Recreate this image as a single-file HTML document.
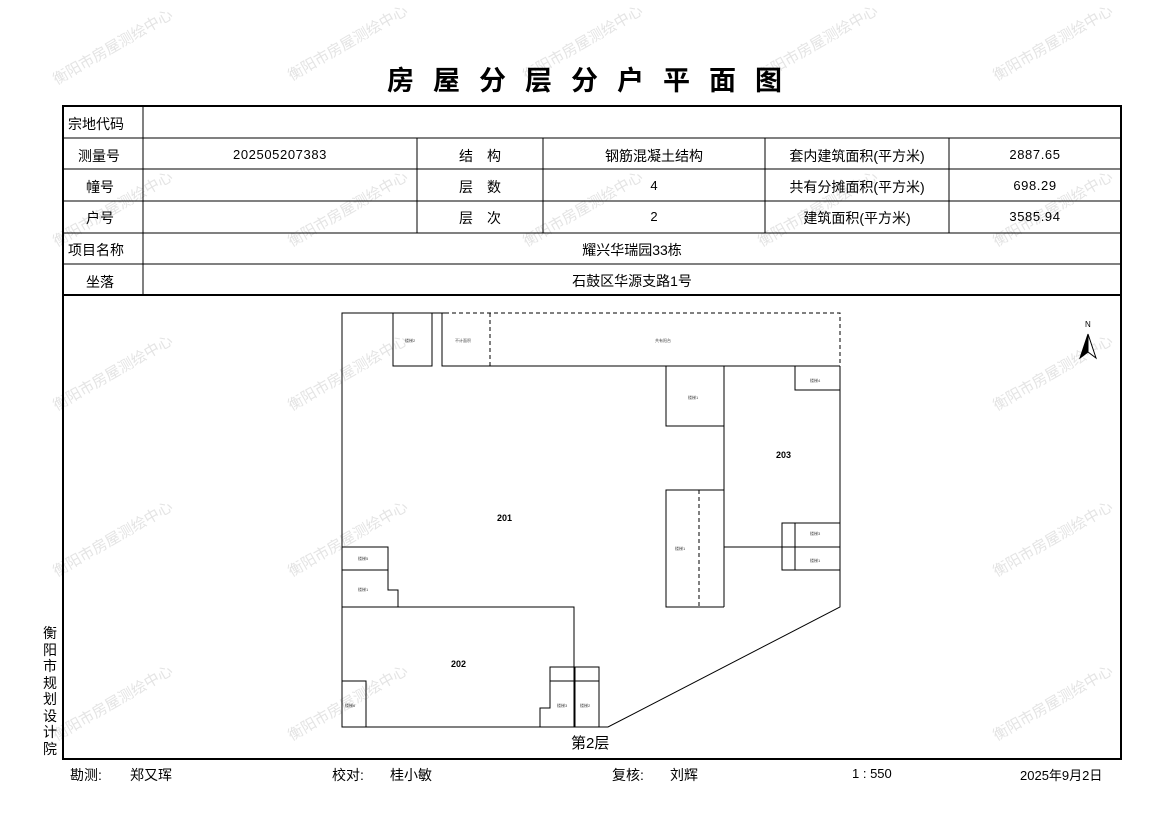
<!DOCTYPE html>
<html><head><meta charset="utf-8"><style>
body{margin:0;background:#fff;width:1169px;height:827px;overflow:hidden;position:relative;font-family:"Liberation Sans","Noto Sans CJK SC",sans-serif;}
.t{position:absolute;font-size:14px;color:#000;white-space:nowrap;}
.n{letter-spacing:0.6px;}
.wm{position:absolute;font-size:15px;color:#e4e4e4;transform:rotate(-30deg);white-space:nowrap;transform-origin:center;}
</style></head><body>
<div class="wm" style="left:45px;top:36px">衡阳市房屋测绘中心</div>
<div class="wm" style="left:280px;top:32px">衡阳市房屋测绘中心</div>
<div class="wm" style="left:515px;top:32px">衡阳市房屋测绘中心</div>
<div class="wm" style="left:750px;top:32px">衡阳市房屋测绘中心</div>
<div class="wm" style="left:985px;top:32px">衡阳市房屋测绘中心</div>
<div class="wm" style="left:45px;top:198px">衡阳市房屋测绘中心</div>
<div class="wm" style="left:280px;top:198px">衡阳市房屋测绘中心</div>
<div class="wm" style="left:515px;top:198px">衡阳市房屋测绘中心</div>
<div class="wm" style="left:750px;top:198px">衡阳市房屋测绘中心</div>
<div class="wm" style="left:985px;top:198px">衡阳市房屋测绘中心</div>
<div class="wm" style="left:45px;top:362px">衡阳市房屋测绘中心</div>
<div class="wm" style="left:280px;top:362px">衡阳市房屋测绘中心</div>
<div class="wm" style="left:985px;top:362px">衡阳市房屋测绘中心</div>
<div class="wm" style="left:45px;top:528px">衡阳市房屋测绘中心</div>
<div class="wm" style="left:280px;top:528px">衡阳市房屋测绘中心</div>
<div class="wm" style="left:985px;top:528px">衡阳市房屋测绘中心</div>
<div class="wm" style="left:45px;top:692px">衡阳市房屋测绘中心</div>
<div class="wm" style="left:280px;top:692px">衡阳市房屋测绘中心</div>
<div class="wm" style="left:985px;top:692px">衡阳市房屋测绘中心</div>

<div class="t" style="left:0;width:1169px;text-align:center;top:59px;font-size:27px;font-weight:bold;letter-spacing:19px;padding-left:19px;box-sizing:border-box">房屋分层分户平面图</div>

<svg style="position:absolute;left:0;top:0" width="1169" height="827">
<g stroke="#000" fill="none">
<rect x="63" y="106" width="1058" height="653" stroke-width="2"/>
<line x1="63" y1="138" x2="1121" y2="138"/>
<line x1="63" y1="169" x2="1121" y2="169"/>
<line x1="63" y1="201" x2="1121" y2="201"/>
<line x1="63" y1="233" x2="1121" y2="233"/>
<line x1="63" y1="264" x2="1121" y2="264"/>
<line x1="63" y1="295" x2="1121" y2="295" stroke-width="2"/>
<line x1="143" y1="106" x2="143" y2="295"/>
<line x1="417" y1="138" x2="417" y2="233"/>
<line x1="543" y1="138" x2="543" y2="233"/>
<line x1="765" y1="138" x2="765" y2="233"/>
<line x1="949" y1="138" x2="949" y2="233"/>
</g>
<g stroke="#000" fill="none" stroke-width="1">
<polyline points="445,313 342,313 342,727 608,727 840,607 840,366"/>
<path d="M445,313 H840 V366" stroke-dasharray="4,3"/>
<rect x="393" y="313" width="39" height="53"/>
<polyline points="442,313 442,366 840,366"/>
<line x1="490" y1="313" x2="490" y2="366" stroke-dasharray="4,3"/>
<polyline points="666,366 666,426 724,426"/>
<line x1="724" y1="366" x2="724" y2="607"/>
<polyline points="795,366 795,390 840,390"/>
<polyline points="724,490 666,490 666,607 724,607"/>
<line x1="699" y1="490" x2="699" y2="607" stroke-dasharray="4,3"/>
<line x1="699" y1="490" x2="724" y2="490" stroke-dasharray="4,3"/>
<line x1="724" y1="547" x2="840" y2="547"/>
<polyline points="840,523 782,523 782,570 840,570"/>
<line x1="795" y1="523" x2="795" y2="570"/>
<polyline points="342,547 388,547 388,570 342,570"/>
<polyline points="388,570 388,590 398,590 398,607"/>
<polyline points="342,607 574,607 574,727"/>
<polyline points="342,681 366,681 366,727"/>
<polyline points="540,727 540,708 550,708 550,667 599,667 599,727"/>
<line x1="550" y1="681" x2="599" y2="681"/>
<line x1="575" y1="667" x2="575" y2="727"/>
<polygon points="1088,334 1080,358 1088,352" fill="#000"/>
<polygon points="1088,334 1096,358 1088,352" fill="#fff"/>
</g>
<text x="1085" y="327" font-size="8" font-family="Liberation Sans">N</text>
<g font-size="9" font-family="Liberation Sans" font-weight="bold">
<text x="497" y="521">201</text><text x="451" y="667">202</text><text x="776" y="458">203</text>
</g>
<g font-size="4" fill="#444" font-family="Liberation Sans">
<text x="405" y="342">楼梯2</text><text x="455" y="342">不计面积</text><text x="655" y="342">共有阳台</text>
<text x="688" y="399">楼梯1</text><text x="675" y="550">楼梯1</text><text x="810" y="382">楼梯4</text>
<text x="810" y="535">楼梯3</text><text x="810" y="562">楼梯1</text><text x="358" y="560">楼梯5</text>
<text x="358" y="591">楼梯1</text><text x="345" y="707">楼梯6</text><text x="557" y="707">楼梯3</text><text x="580" y="707">楼梯2</text>
</g>
</svg>

<div class="t" style="left:68px;top:114px">宗地代码</div>
<div class="t" style="left:78px;top:146px">测量号</div>
<div class="t n" style="left:143px;width:274px;text-align:center;top:147px;font-size:13px">202505207383</div>
<div class="t" style="left:417px;width:126px;text-align:center;top:146px;letter-spacing:14px;padding-left:14px;box-sizing:border-box">结构</div>
<div class="t" style="left:543px;width:222px;text-align:center;top:146px">钢筋混凝土结构</div>
<div class="t" style="left:765px;width:184px;text-align:center;top:146px">套内建筑面积(平方米)</div>
<div class="t n" style="left:949px;width:172px;text-align:center;top:147px;font-size:13px">2887.65</div>
<div class="t" style="left:86px;top:177px">幢号</div>
<div class="t" style="left:417px;width:126px;text-align:center;top:177px;letter-spacing:14px;padding-left:14px;box-sizing:border-box">层数</div>
<div class="t" style="left:543px;width:222px;text-align:center;top:178px;font-size:13px">4</div>
<div class="t" style="left:765px;width:184px;text-align:center;top:177px">共有分摊面积(平方米)</div>
<div class="t n" style="left:949px;width:172px;text-align:center;top:178px;font-size:13px">698.29</div>
<div class="t" style="left:86px;top:208px">户号</div>
<div class="t" style="left:417px;width:126px;text-align:center;top:208px;letter-spacing:14px;padding-left:14px;box-sizing:border-box">层次</div>
<div class="t" style="left:543px;width:222px;text-align:center;top:209px;font-size:13px">2</div>
<div class="t" style="left:765px;width:184px;text-align:center;top:208px">建筑面积(平方米)</div>
<div class="t n" style="left:949px;width:172px;text-align:center;top:209px;font-size:13px">3585.94</div>
<div class="t" style="left:68px;top:240px">项目名称</div>
<div class="t" style="left:143px;width:978px;text-align:center;top:240px">耀兴华瑞园33栋</div>
<div class="t" style="left:86px;top:272px">坐落</div>
<div class="t" style="left:143px;width:978px;text-align:center;top:271px">石鼓区华源支路1号</div>
<div class="t" style="left:571px;top:732px;font-size:15px">第2层</div>
<div class="t" style="left:43px;top:625px;width:16px;font-size:14px;line-height:16.5px;white-space:normal">衡阳市规划设计院</div>
<div class="t" style="left:70px;top:765px">勘测:</div>
<div class="t" style="left:130px;top:765px">郑又珲</div>
<div class="t" style="left:332px;top:765px">校对:</div>
<div class="t" style="left:390px;top:765px">桂小敏</div>
<div class="t" style="left:612px;top:765px">复核:</div>
<div class="t" style="left:670px;top:765px">刘辉</div>
<div class="t" style="left:852px;top:766px;font-size:13px">1 : 550</div>
<div class="t" style="left:1020px;top:765px;font-size:13px">2025年9月2日</div>
</body></html>
